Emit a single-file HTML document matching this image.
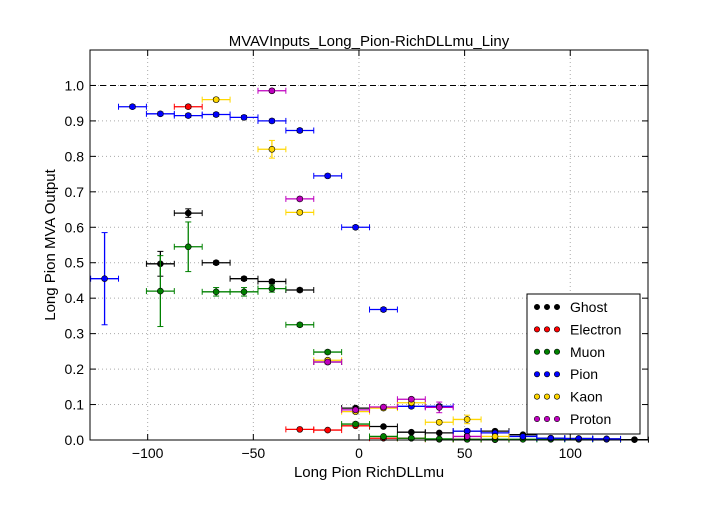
<!DOCTYPE html>
<html><head><meta charset="utf-8">
<style>
body{margin:0;background:#fff;}
svg{font-family:"Liberation Sans","DejaVu Sans",sans-serif;}
</style></head>
<body>
<svg id="chart" width="720" height="504" xmlns="http://www.w3.org/2000/svg">
<rect width="720" height="504" fill="#fff"/>
<text x="369" y="46" text-anchor="middle" font-size="15">MVAVInputs_Long_Pion-RichDLLmu_Liny</text>
<text x="369" y="477" text-anchor="middle" font-size="15">Long Pion RichDLLmu</text>
<text transform="translate(55,245) rotate(-90)" text-anchor="middle" font-size="15">Long Pion MVA Output</text>
<g id="grid"></g><g id="marks"></g><g id="axes"></g><g id="legend"></g>
</svg>
<script>
const xTicks=[-100,-50,0,50,100];
const yTicks=[0.0,0.1,0.2,0.3,0.4,0.5,0.6,0.7,0.8,0.9,1.0];
const binLo=-127.0, binW=13.2;
const seriesNames=["Ghost","Electron","Muon","Pion","Kaon","Proton"];
const seriesColors=["#000000","#ff0000","#008000","#0000ff","#ffd700","#bf00bf"];
// values per bin index (null = empty)
const ghost=[null,null,0.497,0.64,0.50,0.455,0.447,0.423,0.22,0.09,0.038,0.022,0.02,0.025,0.025,0.015,0.005,0.004,0.003,0.001];
const electron=[null,null,null,0.94,null,null,null,0.03,0.028,0.04,0.005,0.005,0.002,0.002,0.001,null,null,null,null,null];
const muon=[null,null,0.42,0.545,0.418,0.418,0.427,0.325,0.248,0.045,0.01,0.005,0.003,0.002,0.002,0.002,0.002,0.002,0.002,null];
const pion=[0.455,0.94,0.92,0.915,0.918,0.91,0.90,0.873,0.745,0.60,0.368,0.095,0.095,0.025,0.02,0.01,0.005,0.004,0.003,null];
const kaon=[null,null,null,null,0.96,null,0.82,0.642,0.225,0.08,0.09,0.105,0.05,0.058,0.01,null,null,null,null,null];
const proton=[null,null,null,null,null,null,0.985,0.68,0.22,0.085,0.093,0.115,0.092,0.01,null,null,null,null,null,null];
const errs=[[0,0,0.035,0.012,0.005,0.005,0.005,0.005,0.005,0.005,0,0,0,0,0,0,0,0,0,0],
 [0,0,0,0.005,0,0,0,0,0,0,0,0,0,0,0,0,0,0,0,0],
 [0,0,0.1,0.07,0.012,0.012,0.01,0.005,0.005,0.005,0,0,0,0,0,0,0,0,0,0],
 [0.13,0.005,0.005,0.005,0.005,0.005,0.005,0.005,0.005,0.005,0.005,0.005,0.005,0.005,0,0,0,0,0,0],
 [0,0,0,0,0.005,0,0.025,0.005,0.005,0.005,0.005,0.005,0.005,0.012,0,0,0,0,0,0],
 [0,0,0,0,0,0,0.005,0.005,0.005,0.005,0.005,0.005,0.015,0,0,0,0,0,0,0]];
const allSeries=[ghost,electron,muon,pion,kaon,proton];
const X0=90,X1=648,Y0=50,Y1=440,xmin=-127.3,xmax=136.8,ymin=0,ymax=1.1;
const sx=v=>X0+(v-xmin)/(xmax-xmin)*(X1-X0);
const sy=v=>Y1-(v-ymin)/(ymax-ymin)*(Y1-Y0);
const NS="http://www.w3.org/2000/svg";
function mk(tag,attrs,parent){const e=document.createElementNS(NS,tag);for(const k in attrs)e.setAttribute(k,attrs[k]);parent.appendChild(e);return e;}
const grid=document.getElementById('grid'),marks=document.getElementById('marks'),axes=document.getElementById('axes'),legend=document.getElementById('legend');
xTicks.forEach(t=>{const l=mk('line',{x1:sx(t),x2:sx(t),y1:Y0,y2:Y1,stroke:'#aaa','stroke-dasharray':'1,3'},grid);

const tx=mk('text',{x:sx(t),y:Y1+18,'text-anchor':'middle','font-size':'14'},axes);tx.textContent=t<0?'\u2212'+(-t):String(t);

mk('line',{x1:sx(t),x2:sx(t),y1:Y1,y2:Y1-6,stroke:'#000'},axes);mk('line',{x1:sx(t),x2:sx(t),y1:Y0,y2:Y0+6,stroke:'#000'},axes);});
yTicks.forEach(t=>{const l=mk('line',{x1:X0,x2:X1,y1:sy(t),y2:sy(t),stroke:'#aaa','stroke-dasharray':'1,3'},grid);

const tx=mk('text',{x:X0-6,y:sy(t)+5,'text-anchor':'end','font-size':'14'},axes);tx.textContent=t.toFixed(1);

mk('line',{x1:X0,x2:X0+6,y1:sy(t),y2:sy(t),stroke:'#000'},axes);mk('line',{x1:X1,x2:X1-6,y1:sy(t),y2:sy(t),stroke:'#000'},axes);});
const ref=mk('line',{x1:X0,x2:X1,y1:sy(1),y2:sy(1),stroke:'#000','stroke-dasharray':'6,4'},grid);

const frame=mk('rect',{x:X0,y:Y0,width:X1-X0,height:Y1-Y0,fill:'none',stroke:'#000'},axes);

allSeries.forEach((s,si)=>{const c=seriesColors[si];const g=mk('g',{},marks);

s.forEach((v,i)=>{if(v===null)return;const lo=binLo+i*binW,hi=lo+binW,cx=sx(lo+binW/2),cy=sy(v),e=errs[si][i];
mk('line',{x1:sx(lo),x2:sx(hi),y1:cy,y2:cy,stroke:c,'stroke-width':1.3},g);
mk('line',{x1:sx(lo),x2:sx(lo),y1:cy-3,y2:cy+3,stroke:c},g);mk('line',{x1:sx(hi),x2:sx(hi),y1:cy-3,y2:cy+3,stroke:c},g);
if(e>0){mk('line',{x1:cx,x2:cx,y1:sy(v-e),y2:sy(v+e),stroke:c,'stroke-width':1.3},g);
mk('line',{x1:cx-3,x2:cx+3,y1:sy(v-e),y2:sy(v-e),stroke:c},g);mk('line',{x1:cx-3,x2:cx+3,y1:sy(v+e),y2:sy(v+e),stroke:c},g);}
const p=mk('circle',{cx:cx,cy:cy,r:3,fill:c,stroke:'#000','stroke-width':0.6},g);
});});
const lb=mk('rect',{x:527,y:294,width:113,height:140,fill:'#fff',stroke:'#000'},legend);

seriesNames.forEach((n,i)=>{const y=307+i*22.4;const g=mk('g',{},legend);

[537,547,557].forEach(x=>mk('circle',{cx:x,cy:y,r:2.7,fill:seriesColors[i],stroke:'#000','stroke-width':0.6},g));
const t=mk('text',{x:570,y:y+5,'font-size':'14'},g);t.textContent=n;});
</script>
</body></html>
